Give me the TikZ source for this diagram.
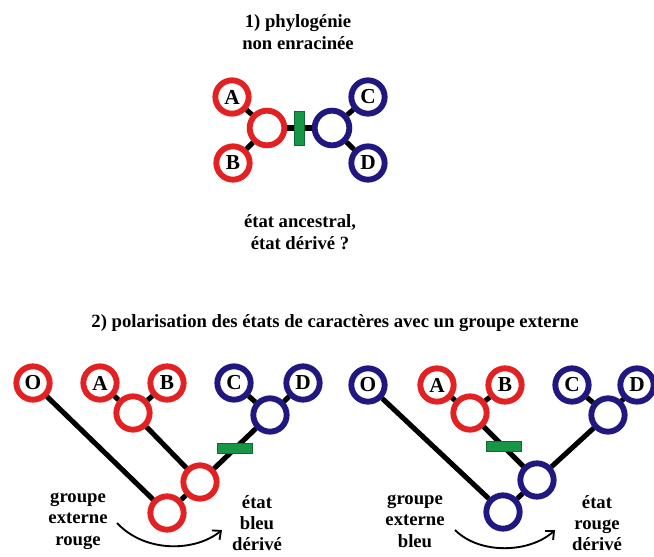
\documentclass[tikz,border=0pt]{standalone}
\usepackage{fontspec}
\setmainfont{Liberation Serif}
\usetikzlibrary{arrows.meta}
\definecolor{rouge}{RGB}{226,34,34}
\definecolor{bleu}{RGB}{32,24,128}
\definecolor{vert}{RGB}{24,150,72}
\tikzset{
  noeud/.style = {circle, draw, fill=white, line width=4.4pt, inner sep=0pt,
    minimum size=25pt, font=\fontsize{16}{16}\selectfont\bfseries},
  noeud_r/.style = {noeud, draw=rouge},% etat rouge
  noeud_b/.style = {noeud, draw=bleu},% etat bleu
  branche/.style = {line width=3.8pt, black},
  barre_h/.style = {rectangle, fill=vert, draw=vert!70!black, line width=0.5pt,
    inner sep=0pt, minimum width=26pt, minimum height=7.5pt},% apparition du caractere
  barre_v/.style = {barre_h, minimum width=7.5pt, minimum height=25.5pt},
  legende/.style = {align=center, font=\fontsize{14}{16}\selectfont\bfseries},
  fleche/.style = {-{Straight Barb[length=5pt,width=9pt]}, line width=1.4pt}
}

\begin{document}
\begin{tikzpicture}[x=0.75pt,y=-0.75pt]
\useasboundingbox (0,0) rectangle (654,557);

% 1) arbre non enracine
\node [legende] (titre1) at (298,32) {1) phylogénie\\non enracinée};
\node [noeud_r] (A1) at (232,97) {A};
\node [noeud_r] (B1) at (233,163) {B};
\node [noeud_r, minimum size=26pt] (g1) at (267,128) {};
\node [noeud_b, minimum size=26pt] (d1) at (332,128) {};
\node [noeud_b] (C1) at (368,97) {C};
\node [noeud_b] (D1) at (368,163) {D};
\draw [branche] (A1) -- (g1);
\draw [branche] (B1) -- (g1);
\draw [branche] (g1) -- (d1) node [barre_v, midway] {};
\draw [branche] (d1) -- (C1);
\draw [branche] (d1) -- (D1);
\node [legende] (quest) at (300,232) {état ancestral,\\état dérivé ?};

% 2) polarisation avec un groupe externe
\node [legende] (titre2) at (335,323)
  {2) polarisation des états de caractères avec un groupe externe};

% groupe externe rouge
\node [noeud_r] (O2) at (33,383) {O};
\node [noeud_r] (A2) at (100,383) {A};
\node [noeud_r] (B2) at (167,383) {B};
\node [noeud_b] (C2) at (234,383) {C};
\node [noeud_b] (D2) at (303,383) {D};
\node [noeud_r] (ab2) at (133,413) {};
\node [noeud_b] (cd2) at (270,415) {};
\node [noeud_r] (x2) at (200,482) {};
\node [noeud_r] (r2) at (167,513) {};
\draw [branche] (A2) -- (ab2);
\draw [branche] (B2) -- (ab2);
\draw [branche] (C2) -- (cd2);
\draw [branche] (D2) -- (cd2);
\draw [branche] (ab2) -- (x2);
\draw [branche] (x2) -- (cd2) node [barre_h, midway] {};
\draw [branche] (O2) -- (r2);
\draw [branche] (r2) -- (x2);
\node [legende] (ext2) at (78,521) {groupe\\externe\\rouge};
\node [legende] (der2) at (257,523) {état\\bleu\\dérivé};
\coordinate (f2a) at (117,523);
\coordinate (f2b) at (222,530);
\draw [fleche] (f2a) .. controls (145,553) and (195,552) .. (f2b);

% groupe externe bleu
\node [noeud_b] (O3) at (368,385) {O};
\node [noeud_r] (A3) at (437,385) {A};
\node [noeud_r] (B3) at (505,385) {B};
\node [noeud_b] (C3) at (572,385) {C};
\node [noeud_b] (D3) at (637,385) {D};
\node [noeud_r] (ab3) at (470,413) {};
\node [noeud_b] (cd3) at (608,415) {};
\node [noeud_b] (x3) at (537,480) {};
\node [noeud_b] (r3) at (503,512) {};
\draw [branche] (A3) -- (ab3);
\draw [branche] (B3) -- (ab3);
\draw [branche] (C3) -- (cd3);
\draw [branche] (D3) -- (cd3);
\draw [branche] (ab3) -- (x3) node [barre_h, midway] {};
\draw [branche] (x3) -- (cd3);
\draw [branche] (O3) -- (r3);
\draw [branche] (r3) -- (x3);
\node [legende] (ext3) at (415,521) {groupe\\externe\\bleu};
\node [legende] (der3) at (597,523) {état\\rouge\\dérivé};
\coordinate (f3a) at (455,530);
\coordinate (f3b) at (555,530);
\draw [fleche] (f3a) .. controls (480,555) and (530,553) .. (f3b);

\end{tikzpicture}
\end{document}
